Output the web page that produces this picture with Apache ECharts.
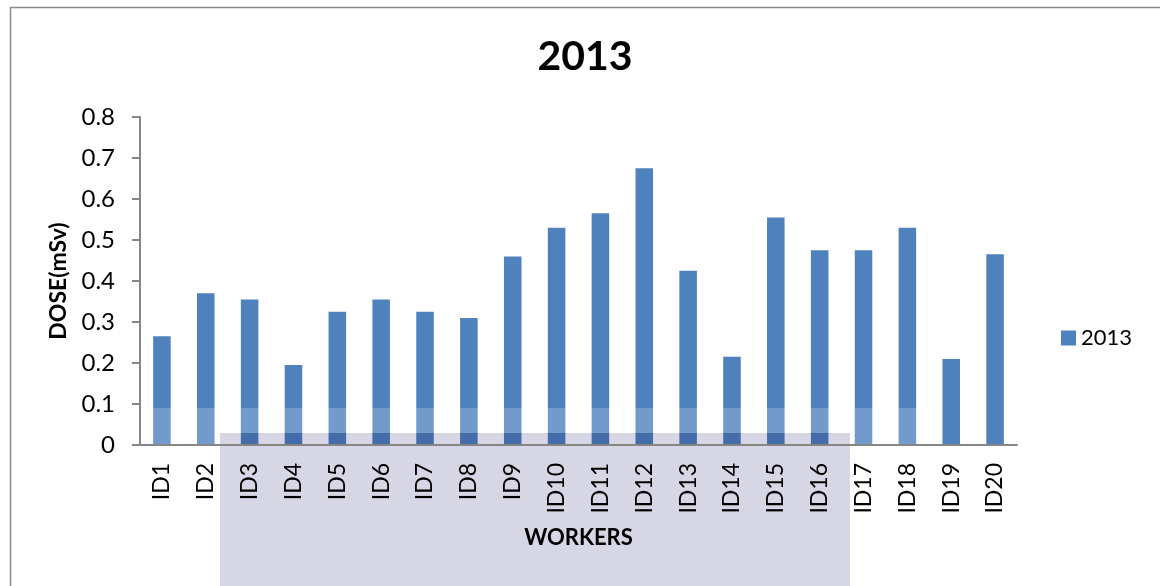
<!DOCTYPE html>
<html>
<head>
<meta charset="utf-8">
<script src="https://cdn.jsdelivr.net/npm/echarts@6/dist/echarts.min.js"></script>
<style>
  html, body { margin: 0; padding: 0; background: #fff; }
  #chart { width: 1160px; height: 586px; }
</style>
</head>
<body>
<div id="chart"></div>
<script>
const workers = ['ID1', 'ID2', 'ID3', 'ID4', 'ID5', 'ID6', 'ID7', 'ID8', 'ID9', 'ID10',
  'ID11', 'ID12', 'ID13', 'ID14', 'ID15', 'ID16', 'ID17', 'ID18', 'ID19', 'ID20'];
const dose2013 = [0.265, 0.37, 0.355, 0.195, 0.325, 0.355, 0.325, 0.31, 0.46, 0.53,
  0.565, 0.675, 0.425, 0.215, 0.555, 0.475, 0.475, 0.53, 0.21, 0.465];
const yTicks = { min: 0, max: 0.8, interval: 0.1 };

const barColor = '#4F81BD';
const axisGray = '#868686';
const font = 'Lato, "Open Sans", sans-serif';

const chart = echarts.init(document.getElementById('chart'));

// scanned-page watermark: lighter strip near the base, lavender block under the axis
const wash = (left, top, width, height) => ({
  type: 'rect', left, top, z: 50, silent: true,
  shape: { width, height },
  style: { fill: 'rgba(255,255,255,0.2)' }
});

chart.setOption({
  backgroundColor: '#fff',
  animation: false,
  title: {
    text: '2013',
    left: 580,
    top: 31,
    textAlign: 'center',
    textStyle: { fontFamily: font, fontSize: 41, fontWeight: 'bold', color: '#000' }
  },
  legend: {
    data: ['2013'],
    orient: 'vertical',
    left: 1056,
    top: 322,
    itemWidth: 15,
    itemHeight: 15,
    itemGap: 7,
    icon: 'rect',
    textStyle: { fontFamily: font, fontSize: 22, color: '#000' }
  },
  grid: { left: 140, right: 143, top: 117, bottom: 141, containLabel: false },
  xAxis: {
    type: 'category',
    data: workers,
    z: 60,
    name: 'WORKERS',
    nameLocation: 'middle',
    nameGap: 82,
    nameTextStyle: { fontFamily: font, fontSize: 22, fontWeight: 'bold', color: '#000' },
    axisLine: { lineStyle: { color: axisGray, width: 2 } },
    axisTick: { length: 7, lineStyle: { color: axisGray, width: 2 } },
    axisLabel: { rotate: 90, fontFamily: font, fontSize: 23, color: '#000', margin: 18 }
  },
  yAxis: {
    type: 'value',
    z: 60,
    min: yTicks.min,
    max: yTicks.max,
    interval: yTicks.interval,
    name: 'DOSE(mSv)',
    nameLocation: 'middle',
    nameGap: 70,
    nameRotate: 90,
    nameTextStyle: { fontFamily: font, fontSize: 23, fontWeight: 'bold', color: '#000' },
    axisLine: { show: true, lineStyle: { color: axisGray, width: 2 } },
    axisTick: { show: true, length: 8, lineStyle: { color: axisGray, width: 2 } },
    splitLine: { show: false },
    axisLabel: {
      fontFamily: font, fontSize: 24, color: '#000', margin: 25,
      formatter: v => (v === 0 ? '0' : v.toFixed(1))
    }
  },
  series: [{
    name: '2013',
    type: 'bar',
    data: dose2013,
    barWidth: '40%',
    itemStyle: { color: barColor }
  }],
  graphic: [
    // outer frame of the original chart
    {
      type: 'rect', left: 8, top: 5, z: 100,
      shape: { width: 1170, height: 600 },
      style: { fill: 'none', stroke: '#8a8a8a', lineWidth: 1.5 }
    },
    wash(130, 408, 90, 37),
    wash(220, 408, 630, 25),
    wash(850, 408, 75, 37),
    {
      type: 'rect', left: 220, top: 433, z: 50, silent: true,
      shape: { width: 630, height: 153 },
      style: { fill: 'rgb(214,214,228)', blend: 'multiply' }
    }
  ]
});
</script>
</body>
</html>
